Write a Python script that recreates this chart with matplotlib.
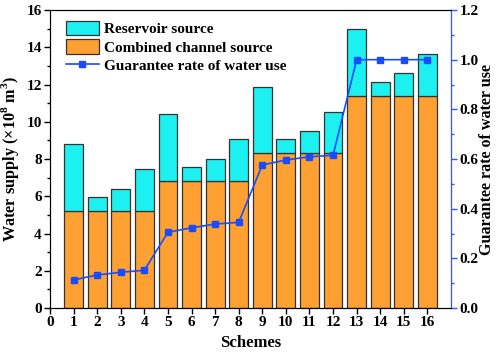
import matplotlib
matplotlib.use("Agg")
import matplotlib.pyplot as plt
from matplotlib.ticker import MultipleLocator

schemes = list(range(1, 17))
combined = [5.2, 5.2, 5.2, 5.2, 6.8, 6.8, 6.8, 6.8, 8.3, 8.3, 8.3, 8.3, 11.4, 11.4, 11.4, 11.4]
total = [8.8, 5.95, 6.4, 7.45, 10.4, 7.55, 8.0, 9.05, 11.88, 9.07, 9.52, 10.55, 15.0, 12.15, 12.62, 13.66]
reservoir = [t - c for t, c in zip(total, combined)]
guarantee = [0.113, 0.133, 0.144, 0.152, 0.305, 0.323, 0.338, 0.345, 0.576, 0.596, 0.609, 0.615, 1.0, 1.0, 1.0, 1.0]

plt.rcParams['font.family'] = ['Liberation Serif', 'DejaVu Serif']
plt.rcParams['font.weight'] = 'bold'
plt.rcParams['mathtext.fontset'] = 'custom'
plt.rcParams['mathtext.rm'] = 'Liberation Serif:bold'
plt.rcParams['mathtext.bf'] = 'Liberation Serif:bold'

fig = plt.figure(figsize=(4.98, 3.56), dpi=100)
ax = fig.add_axes([0.1004, 0.1348, 0.8052, 0.8371])

orange = '#FFA033'
cyan = '#1CF0F0'
edge = '#333333'
tfs = 11
lfs = 12

b1 = ax.bar(schemes, combined, width=0.8, color=orange, edgecolor=edge, linewidth=0.9,
            label='Combined channel source', zorder=2)
b2 = ax.bar(schemes, reservoir, bottom=combined, width=0.8, color=cyan, edgecolor=edge,
            linewidth=0.9, label='Reservoir source', zorder=2)

ax.set_xlim(0, 17)
ax.set_ylim(0, 16)
ax.set_xticks(range(0, 17))
ax.yaxis.set_major_locator(MultipleLocator(2))
ax.yaxis.set_minor_locator(MultipleLocator(1))
ax.tick_params(axis='both', which='major', labelsize=tfs, direction='out', length=4, width=1, pad=2)
ax.tick_params(axis='y', which='minor', direction='out', length=2.5, width=1)
ax.set_xlabel('Schemes', fontsize=lfs, fontweight='bold', labelpad=4)
ax.set_ylabel(r'Water supply ($\times$10$^{8}$ m$^{3}$)', fontsize=11.7, fontweight='bold', labelpad=4)
for lab in ax.get_xticklabels() + ax.get_yticklabels():
    lab.set_fontweight('bold')

ax2 = ax.twinx()
ln, = ax2.plot(schemes, guarantee, color='#1A4CFF', marker='s', markersize=5, linewidth=1.2,
               label='Guarantee rate of water use', zorder=3)
ax2.set_ylim(0, 1.2)
ax2.yaxis.set_major_locator(MultipleLocator(0.2))
ax2.yaxis.set_minor_locator(MultipleLocator(0.1))
ax2.tick_params(axis='y', which='major', labelsize=tfs, direction='out', length=4, width=1,
                color='#3355FF', pad=2)
ax2.tick_params(axis='y', which='minor', direction='out', length=2.5, width=1, color='#3355FF')
ax2.spines['right'].set_color('#3355FF')
ax2.yaxis.set_major_formatter(plt.FuncFormatter(lambda v, p: f'{v:.1f}'))
ax2.set_ylabel('Guarantee rate of water use', fontsize=11.6, fontweight='bold')
ax2.yaxis.set_label_coords(1.071, 0.5)
for lab in ax2.get_yticklabels():
    lab.set_fontweight('bold')

ax.legend([b2, b1, ln], ['Reservoir source', 'Combined channel source', 'Guarantee rate of water use'],
          loc='upper left', bbox_to_anchor=(0.012, 1.0), frameon=False,
          handlelength=2.2, handleheight=1.1,
          borderaxespad=0.3, labelspacing=0.2, handletextpad=0.35,
          prop={'weight': 'bold', 'size': 11})

fig.savefig('out.png', dpi=100)
